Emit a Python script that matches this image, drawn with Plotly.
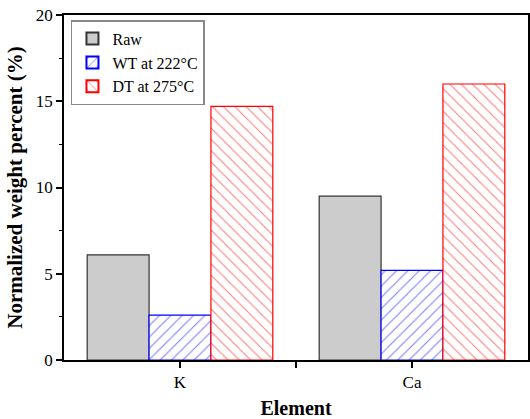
import plotly.graph_objects as go

categories = ["K", "Ca"]
raw = [6.1, 9.5]
wt = [2.6, 5.2]
dt = [14.7, 16.0]
series_names = ["Raw", "WT at 222°C", "DT at 275°C"]

xpos = list(range(len(categories)))
font = "Liberation Serif"

fig = go.Figure()
fig.add_trace(go.Bar(x=xpos, y=raw, name=series_names[0],
                     marker=dict(color="#cccccc", line=dict(color="#333333", width=1.2))))
fig.add_trace(go.Bar(x=xpos, y=wt, name=series_names[1],
                     marker=dict(color="white", line=dict(color="blue", width=1.2),
                                 pattern=dict(shape="/", fgcolor="blue", bgcolor="white",
                                              size=8, solidity=0.14))))
fig.add_trace(go.Bar(x=xpos, y=dt, name=series_names[2],
                     marker=dict(color="white", line=dict(color="red", width=1.2),
                                 pattern=dict(shape="\\", fgcolor="red", bgcolor="white",
                                              size=8, solidity=0.14))))

tickvals = [0, 0.5, 1]
ticktext = [categories[0], "", categories[1]]

fig.update_layout(
    width=530, height=419,
    margin=dict(l=64, r=2, t=15, b=59, autoexpand=False),
    paper_bgcolor="white", plot_bgcolor="white",
    barmode="group", bargap=0.2, bargroupgap=0,
    font=dict(family=font, size=17, color="black"),
    showlegend=True,
    legend=dict(x=0.015, y=0.985, xanchor="left", yanchor="top",
                bordercolor="#888888", borderwidth=1.5, bgcolor="white",
                font=dict(size=16, family=font), tracegroupgap=0,
                itemsizing="constant", itemwidth=30),
    xaxis=dict(range=[-0.5, 1.5], tickvals=tickvals, ticktext=ticktext,
               ticks="outside", ticklen=6, tickwidth=1.5, tickcolor="black",
               tickfont=dict(size=17, family=font), automargin=False,
               showline=True, linecolor="black", linewidth=1.5, mirror=True,
               showgrid=False, zeroline=False,
               title=dict(text="<b>Element</b>", font=dict(size=20, family=font), standoff=22)),
    yaxis=dict(range=[0, 20], tickvals=[0, 5, 10, 15, 20],
               ticks="outside", ticklen=6, tickwidth=1.5, tickcolor="black",
               tickfont=dict(size=17, family=font), automargin=False,
               minor=dict(tickvals=[2.5, 7.5, 12.5, 17.5], ticks="outside", ticklen=3,
                          tickwidth=1.2, tickcolor="black"),
               showline=True, linecolor="black", linewidth=1.5, mirror=True,
               showgrid=False, zeroline=False,
               title=dict(text="<b>Normalized weight percent (%)</b>",
                          font=dict(size=21, family=font), standoff=7)),
)

fig.write_html("out.html")
